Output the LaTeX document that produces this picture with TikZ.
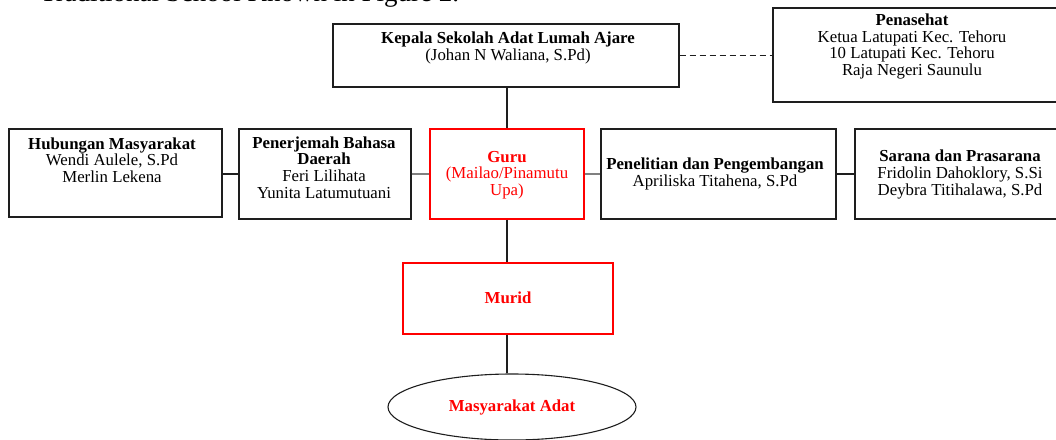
\documentclass[tikz,border=0pt]{standalone}
\usepackage{fontspec}
\setmainfont{Liberation Serif}
\usetikzlibrary{shapes.geometric}
\definecolor{ln}{RGB}{30,30,30}
\definecolor{rd}{RGB}{255,0,0}
\begin{document}
\begin{tikzpicture}[x=1pt,y=-1pt,
  box/.style={draw=ln,line width=1.1pt,rectangle,inner sep=0pt},
  redbox/.style={draw=rd,line width=1.1pt,rectangle,inner sep=0pt},
  txt/.style={align=center,inner sep=0pt,font=\fontsize{16.8}{16.6}\selectfont},
  redtxt/.style={txt,text=rd},
  conn/.style={line width=1.1pt,draw=ln},
  gconn/.style={line width=1.1pt,draw=black!50}
]
\useasboundingbox (0,0) rectangle (1056,439);
\clip (0,0) rectangle (1056,439);

% clipped caption line at top
\node[anchor=base west,inner sep=0pt,font=\fontsize{27}{27}\selectfont] (cap) at (40,1.2) {Traditional School Known in Figure 2.};

% boxes
\node[box,minimum width=346pt,minimum height=63pt] (kep) at (506,55.5) {};
\node[box,minimum width=290pt,minimum height=94pt] (pen) at (918,55) {};
\node[box,minimum width=213pt,minimum height=88pt] (hub) at (115.5,173) {};
\node[box,minimum width=172pt,minimum height=90pt] (ter) at (325,174) {};
\node[redbox,minimum width=154pt,minimum height=90pt] (guru) at (507,174) {};
\node[box,minimum width=235pt,minimum height=90pt] (lit) at (718.5,174) {};
\node[box,minimum width=206pt,minimum height=90pt] (sar) at (958,174) {};
\node[redbox,minimum width=210pt,minimum height=71pt] (mur) at (508,298.5) {};
\node[ellipse,draw=ln,line width=1.1pt,inner sep=0pt,minimum width=248pt,minimum height=66pt] (ell) at (512,407) {};

% texts
\node[txt] (kept) at (508,48) {\textbf{Kepala Sekolah Adat Lumah Ajare}\\(Johan N Waliana, S.Pd)};
\node[txt] (pent) at (912,46.5) {\textbf{Penasehat}\\Ketua Latupati Kec. Tehoru\\10 Latupati Kec. Tehoru\\Raja Negeri Saunulu};
\node[txt] (hubt) at (112,160) {\textbf{Hubungan Masyarakat}\\Wendi Aulele, S.Pd\\Merlin Lekena};
\node[txt] (tert) at (324,167.5) {\textbf{Penerjemah Bahasa}\\\textbf{Daerah}\\Feri Lilihata\\Yunita Latumutuani};
\node[redtxt] (gurut) at (507,175) {\textbf{Guru}\\(Mailao/Pinamutu\\Upa)};
\node[txt] (litt) at (715,174) {\textbf{Penelitian dan Pengembangan}\\Apriliska Titahena, S.Pd};
\node[txt] (sart) at (960,174.5) {\textbf{Sarana dan Prasarana}\\Fridolin Dahoklory, S.Si\\Deybra Titihalawa, S.Pd};
\node[redtxt] (murt) at (508,298) {\textbf{Murid}};
\node[redtxt] (ellt) at (512,407) {\textbf{Masyarakat Adat}};

% connectors
\draw[conn,dash pattern=on 6pt off 4pt] (kep.east) -- (kep.east -| pen.west);
\draw[conn] (kep.south -| guru.north) -- (guru.north);
\draw[conn] (hub.east |- ter.west) -- (ter.west);
\draw[gconn] (ter.east) -- (guru.west);
\draw[gconn] (guru.east) -- (lit.west);
\draw[conn] (lit.east) -- (sar.west);
\draw[conn] (guru.south) -- (guru.south |- mur.north);
\draw[conn] (guru.south |- mur.south) -- (guru.south |- ell.north);
\end{tikzpicture}
\end{document}
